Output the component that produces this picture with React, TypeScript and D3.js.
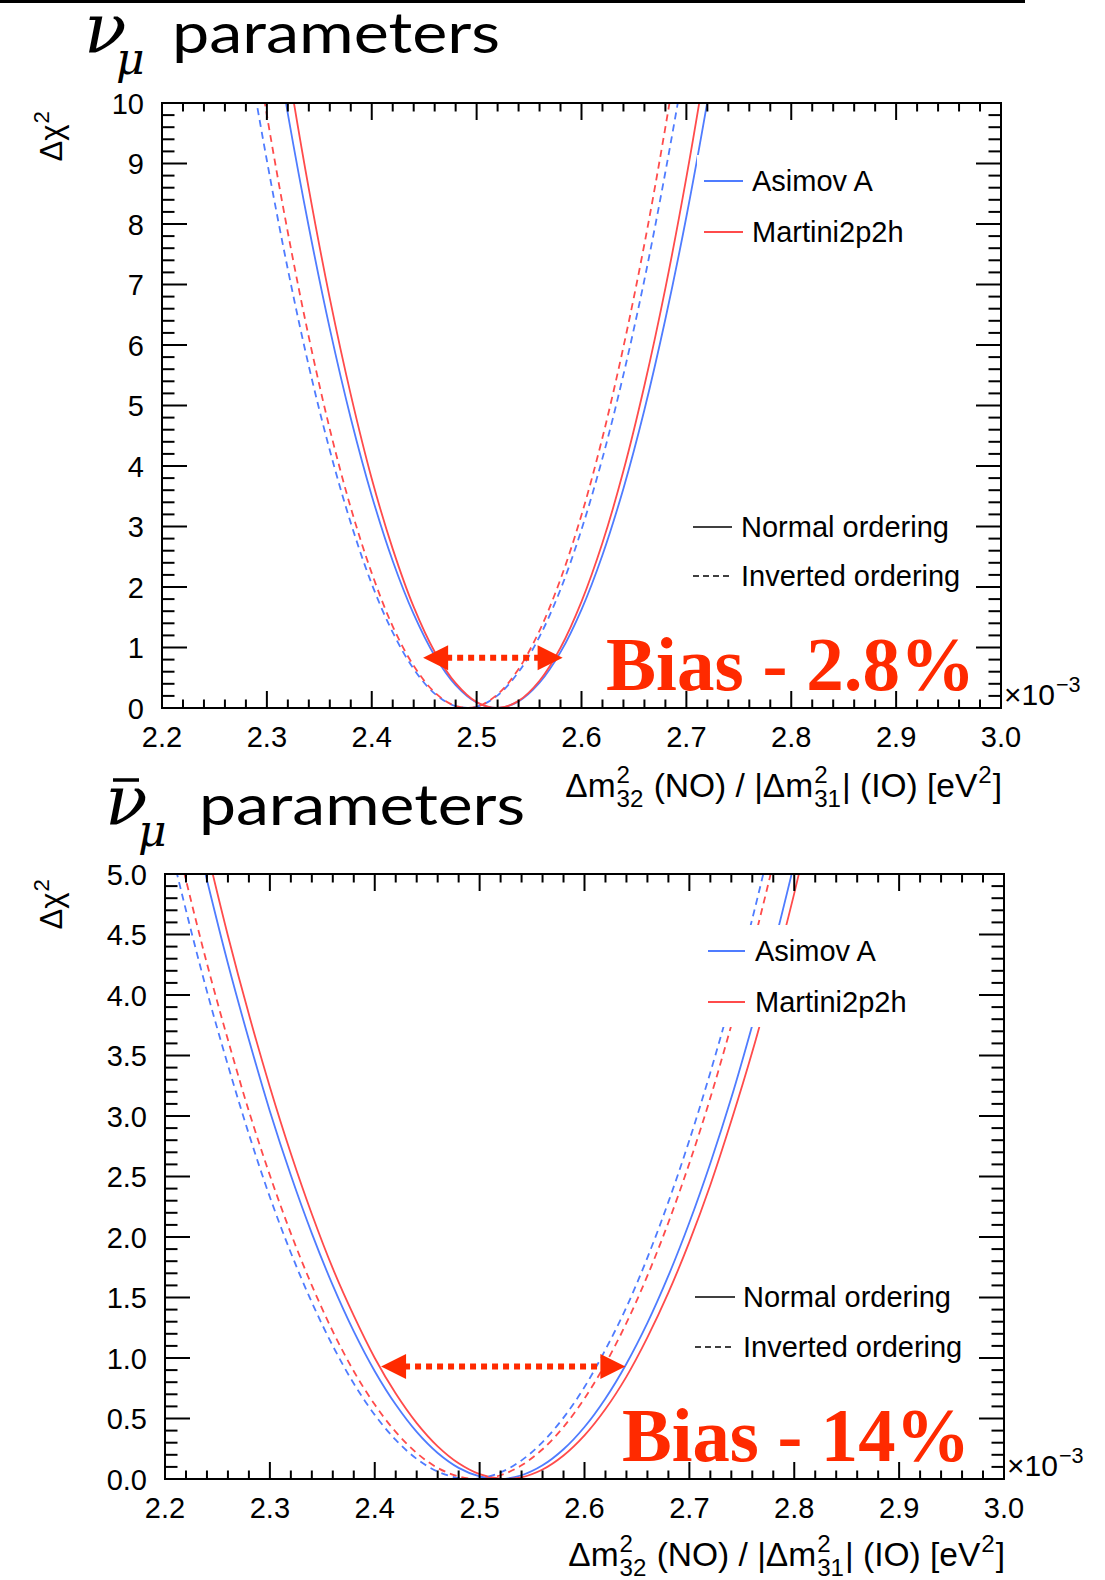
import React, { useEffect, useRef } from "react";
import * as d3 from "d3";

// Δm²32 scan points (×10⁻³ eV²)
const xGridNu = [2.24, 2.26, 2.28, 2.30, 2.32, 2.34, 2.36, 2.38, 2.40, 2.42, 2.44, 2.46, 2.48, 2.50, 2.52, 2.54, 2.56, 2.58, 2.60, 2.62, 2.64, 2.66, 2.68, 2.70, 2.72, 2.74];
const asimovNONu = [19.3, 16.6, 14.17, 11.89, 9.82, 7.95, 6.27, 4.79, 3.51, 2.43, 1.55, 0.863, 0.377, 0.090, 0.0, 0.109, 0.417, 0.923, 1.627, 2.53, 3.63, 4.93, 6.43, 8.12, 10.02, 12.11];
const martiniNONu = [20.8, 17.97, 15.30, 12.85, 10.61, 8.58, 6.77, 5.18, 3.79, 2.63, 1.67, 0.93, 0.41, 0.097, 0.0, 0.118, 0.450, 0.996, 1.758, 2.73, 3.92, 5.33, 6.94, 8.77, 10.82, 13.08];
const asimovIONu = [15.6, 13.23, 11.04, 9.05, 7.25, 5.65, 4.26, 3.06, 2.05, 1.25, 0.645, 0.238, 0.030, 0.020, 0.209, 0.595, 1.18, 1.96, 2.95, 4.13, 5.51, 7.08, 8.86, 10.83, 13.0, 15.4];
const martiniIONu = [16.93, 14.34, 11.97, 9.80, 7.86, 6.13, 4.61, 3.31, 2.23, 1.35, 0.699, 0.258, 0.033, 0.022, 0.226, 0.645, 1.28, 2.13, 3.19, 4.47, 5.97, 7.67, 9.60, 11.74, 14.09, 16.66];

const xGridNubar = [2.18, 2.20, 2.22, 2.24, 2.26, 2.28, 2.30, 2.32, 2.34, 2.36, 2.38, 2.40, 2.42, 2.44, 2.46, 2.48, 2.50, 2.52, 2.54, 2.56, 2.58, 2.60, 2.62, 2.64, 2.66, 2.68, 2.70, 2.72, 2.74, 2.76, 2.78, 2.80, 2.82, 2.84];
const asimovNONubar = [7.31, 6.47, 5.68, 4.95, 4.26, 3.63, 3.04, 2.51, 2.03, 1.60, 1.22, 0.891, 0.615, 0.389, 0.215, 0.092, 0.021, 0.000, 0.031, 0.113, 0.246, 0.430, 0.666, 0.953, 1.29, 1.68, 2.12, 2.61, 3.15, 3.75, 4.39, 5.09, 5.84, 6.64];
const martiniNONubar = [7.62, 6.76, 5.95, 5.20, 4.49, 3.84, 3.24, 2.69, 2.19, 1.74, 1.35, 1.00, 0.706, 0.462, 0.270, 0.130, 0.040, 0.002, 0.014, 0.078, 0.194, 0.360, 0.578, 0.846, 1.17, 1.54, 1.96, 2.43, 2.96, 3.53, 4.16, 4.84, 5.57, 6.35];
const asimovIONubar = [6.19, 5.42, 4.70, 4.03, 3.42, 2.85, 2.33, 1.87, 1.46, 1.10, 0.789, 0.530, 0.323, 0.166, 0.062, 0.008, 0.005, 0.054, 0.154, 0.305, 0.507, 0.760, 1.07, 1.42, 1.83, 2.29, 2.80, 3.36, 3.97, 4.63, 5.35, 6.11, 6.93, 7.80];
const martiniIONubar = [6.47, 5.68, 4.95, 4.26, 3.63, 3.04, 2.51, 2.03, 1.60, 1.22, 0.891, 0.615, 0.389, 0.215, 0.092, 0.021, 0.000, 0.031, 0.113, 0.246, 0.430, 0.666, 0.953, 1.29, 1.68, 2.12, 2.61, 3.15, 3.75, 4.39, 5.09, 5.84, 6.64, 7.49];

// Bias arrows: [x start, x end, Δχ² level] and their labels
const biasArrowNu = [2.449, 2.582, 0.83];
const biasArrowNubar = [2.406, 2.639, 0.93];
const biasLabels = ["Bias - 2.8%", "Bias - 14%"];

const xDomain = [2.2, 3.0];
const yMaxes = [10, 5];
const seriesNames = ["Asimov A", "Martini2p2h"];
const orderingNames = ["Normal ordering", "Inverted ordering"];

const BLUE = "#4f7cff";
const RED = "#ff4b4b";
const BIAS = "#ff2a00";
const SANS = "'Liberation Sans', Arial, Helvetica, sans-serif";

type Part = { t?: string; sup?: string; sub?: string };

function richText(
  parent: any,
  x: number,
  y: number,
  parts: Part[],
  size: number,
  anchor: "start" | "end",
  rotate = false
) {
  const g = parent.append("g");
  let cx = 0;
  const ss = size * 0.72;
  parts.forEach((p) => {
    if (p.t !== undefined) {
      const el = g.append("text").attr("x", cx).attr("y", 0).attr("font-family", SANS).attr("font-size", size)
        .attr("fill", "#000").style("white-space", "pre").text(p.t);
      cx += (el.node() as SVGTextElement).getComputedTextLength();
    } else {
      let w = 0;
      if (p.sup) {
        const el = g.append("text").attr("x", cx + 1).attr("y", -size * 0.42).attr("font-family", SANS).attr("font-size", ss).text(p.sup);
        w = Math.max(w, (el.node() as SVGTextElement).getComputedTextLength());
      }
      if (p.sub) {
        const el = g.append("text").attr("x", cx + 1).attr("y", size * 0.3).attr("font-family", SANS).attr("font-size", ss).text(p.sub);
        w = Math.max(w, (el.node() as SVGTextElement).getComputedTextLength());
      }
      cx += w + 2;
    }
  });
  const shift = anchor === "end" ? -cx : 0;
  if (rotate) g.attr("transform", `translate(${x},${y}) rotate(-90) translate(${shift},0)`);
  else g.attr("transform", `translate(${x + shift},${y})`);
  return g;
}

type PanelCfg = {
  frame: { l: number; r: number; t: number; b: number };
  yMax: number;
  yMajor: number;
  yFmt: (v: number) => string;
  xs: number[];
  curves: { vals: number[]; color: string; dashed: boolean }[];
  arrow: number[];
  bias: string;
  biasPos: { x: number; y: number; len: number };
  legend1: { box: number[]; l1: number; l2: number; tx: number; ys: number[] };
  legend2: { l1: number; l2: number; tx: number; ys: number[] };
  yTitle: { x: number; y: number };
  title: { nuX: number; base: number; muX: number; parX: number; bar: boolean; parLen: number };
  xTitleY: number;
  expPos: { x: number; y: number };
};

function drawPanel(svg: any, cfg: PanelCfg, idx: number) {
  const { frame } = cfg;
  const x = d3.scaleLinear().domain(xDomain).range([frame.l, frame.r]);
  const y = d3.scaleLinear().domain([0, cfg.yMax]).range([frame.b, frame.t]);

  const clipId = `clip${idx}`;
  svg.append("clipPath").attr("id", clipId).append("rect")
    .attr("x", frame.l).attr("y", frame.t).attr("width", frame.r - frame.l).attr("height", frame.b - frame.t);

  // χ² profile curves
  const line = d3.line<[number, number]>()
    .x((d) => x(d[0]))
    .y((d) => y(d[1]))
    .curve(d3.curveCatmullRom.alpha(0.5));
  const cg = svg.append("g").attr("clip-path", `url(#${clipId})`);
  cfg.curves.forEach((c) => {
    const pts: [number, number][] = cfg.xs.map((xv, i) => [xv, c.vals[i]]);
    cg.append("path").attr("d", line(pts)).attr("fill", "none")
      .attr("stroke", c.color).attr("stroke-width", 1.8)
      .attr("stroke-dasharray", c.dashed ? "7,5" : null);
  });

  // legend (white box hides curves behind it)
  const L1 = cfg.legend1;
  svg.append("rect").attr("x", L1.box[0]).attr("y", L1.box[1]).attr("width", L1.box[2] - L1.box[0]).attr("height", L1.box[3] - L1.box[1]).attr("fill", "#fff");
  seriesNames.forEach((name, i) => {
    const yy = L1.ys[i];
    svg.append("line").attr("x1", L1.l1).attr("x2", L1.l2).attr("y1", yy).attr("y2", yy).attr("stroke", i === 0 ? BLUE : RED).attr("stroke-width", 1.8);
    svg.append("text").attr("x", L1.tx).attr("y", yy + 10).attr("font-family", SANS).attr("font-size", 29).text(name);
  });
  const L2 = cfg.legend2;
  orderingNames.forEach((name, i) => {
    const yy = L2.ys[i];
    svg.append("line").attr("x1", L2.l1).attr("x2", L2.l2).attr("y1", yy).attr("y2", yy).attr("stroke", "#000").attr("stroke-width", 1.6).attr("stroke-dasharray", i === 1 ? "6,4" : null);
    svg.append("text").attr("x", L2.tx).attr("y", yy + 10).attr("font-family", SANS).attr("font-size", 29).text(name);
  });

  // axes frame and ticks
  const ag = svg.append("g").attr("stroke", "#000").attr("stroke-width", 2);
  ag.append("rect").attr("x", frame.l).attr("y", frame.t).attr("width", frame.r - frame.l).attr("height", frame.b - frame.t).attr("fill", "none");
  const xMinor = d3.range(0, 41).map((i) => 2.2 + i * 0.02);
  xMinor.forEach((v, i) => {
    const major = i % 5 === 0;
    const len = major ? 17 : 8.5;
    const px = x(v);
    ag.append("line").attr("x1", px).attr("x2", px).attr("y1", frame.b).attr("y2", frame.b - len);
    ag.append("line").attr("x1", px).attr("x2", px).attr("y1", frame.t).attr("y2", frame.t + len);
  });
  const nY = Math.round(cfg.yMax / (cfg.yMajor / 5));
  d3.range(0, nY + 1).forEach((i) => {
    const v = (i * cfg.yMajor) / 5;
    const major = i % 5 === 0;
    const len = major ? 25 : 12.5;
    const py = y(v);
    ag.append("line").attr("x1", frame.l).attr("x2", frame.l + len).attr("y1", py).attr("y2", py);
    ag.append("line").attr("x1", frame.r).attr("x2", frame.r - len).attr("y1", py).attr("y2", py);
  });

  // tick labels
  d3.range(0, 9).forEach((i) => {
    const v = 2.2 + i * 0.1;
    svg.append("text").attr("x", x(v)).attr("y", frame.b + 39).attr("text-anchor", "middle").attr("font-family", SANS).attr("font-size", 29).text(d3.format(".1f")(v));
  });
  d3.range(0, Math.round(cfg.yMax / cfg.yMajor) + 1).forEach((i) => {
    const v = i * cfg.yMajor;
    svg.append("text").attr("x", frame.l - 18).attr("y", y(v) + 10.5).attr("text-anchor", "end").attr("font-family", SANS).attr("font-size", 29).text(cfg.yFmt(v));
  });

  // exponent, axis titles
  richText(svg, cfg.expPos.x, cfg.expPos.y, [{ t: "×10" }, { sup: "−3" }], 30, "start");
  richText(svg, frame.r + 1, cfg.xTitleY, [
    { t: "Δm" }, { sup: "2", sub: "32" }, { t: " (NO) / |Δm" }, { sup: "2", sub: "31" }, { t: "| (IO) [eV" }, { sup: "2" }, { t: "]" },
  ], 33.5, "end");
  richText(svg, cfg.yTitle.x, cfg.yTitle.y, [{ t: "Δχ" }, { sup: "2" }], 31, "end", true);

  // bias arrow
  const [ax1, ax2, ay] = cfg.arrow;
  const px1 = x(ax1), px2 = x(ax2), py = y(ay);
  const head = 25, hh = 12.5;
  svg.append("line").attr("x1", px1 + head - 2).attr("x2", px2 - head + 2).attr("y1", py).attr("y2", py)
    .attr("stroke", BIAS).attr("stroke-width", 6).attr("stroke-dasharray", "6,5");
  svg.append("path").attr("d", `M${px1},${py} L${px1 + head},${py - hh} L${px1 + head},${py + hh} Z`).attr("fill", BIAS);
  svg.append("path").attr("d", `M${px2},${py} L${px2 - head},${py - hh} L${px2 - head},${py + hh} Z`).attr("fill", BIAS);
  svg.append("text").attr("x", cfg.biasPos.x).attr("y", cfg.biasPos.y)
    .attr("font-family", "'Liberation Serif', 'Times New Roman', serif").attr("font-weight", "bold")
    .attr("font-size", 76).attr("fill", BIAS)
    .attr("textLength", cfg.biasPos.len).attr("lengthAdjust", "spacingAndGlyphs")
    .text(cfg.bias);

  // panel title
  const T = cfg.title;
  svg.append("text").attr("x", T.nuX).attr("y", T.base).attr("font-family", "'DejaVu Serif', serif").attr("font-style", "italic").attr("font-size", 70).text("ν");
  if (T.bar) {
    svg.append("line").attr("x1", T.nuX + 8).attr("x2", T.nuX + 34).attr("y1", T.base - 44).attr("y2", T.base - 44).attr("stroke", "#000").attr("stroke-width", 3.5);
  }
  svg.append("text").attr("x", T.muX).attr("y", T.base + 22).attr("font-family", "'DejaVu Serif', serif").attr("font-style", "italic").attr("font-size", 44).text("μ");
  svg.append("text").attr("x", T.parX).attr("y", T.base + 1).attr("font-family", "Lato, 'Open Sans', sans-serif").attr("font-size", 56)
    .attr("textLength", T.parLen).attr("lengthAdjust", "spacingAndGlyphs").text("parameters");
}

export default function App() {
  const ref = useRef<SVGSVGElement>(null);
  useEffect(() => {
    const svg = d3.select(ref.current);
    svg.selectAll("*").remove();
    svg.append("rect").attr("x", 0).attr("y", 0).attr("width", 1105).attr("height", 1580).attr("fill", "#fff");
    svg.append("rect").attr("x", 0).attr("y", 0).attr("width", 1025).attr("height", 3).attr("fill", "#000");

    const top: PanelCfg = {
      frame: { l: 162, r: 1001, t: 103, b: 708 },
      yMax: yMaxes[0],
      yMajor: 1,
      yFmt: d3.format("d"),
      xs: xGridNu,
      curves: [
        { vals: asimovNONu, color: BLUE, dashed: false },
        { vals: martiniNONu, color: RED, dashed: false },
        { vals: asimovIONu, color: BLUE, dashed: true },
        { vals: martiniIONu, color: RED, dashed: true },
      ],
      arrow: biasArrowNu,
      bias: biasLabels[0],
      biasPos: { x: 606, y: 690, len: 369 },
      legend1: { box: [697, 155, 990, 258], l1: 704, l2: 743, tx: 752, ys: [181, 232] },
      legend2: { l1: 693, l2: 732, tx: 741, ys: [527, 576] },
      yTitle: { x: 62, y: 110 },
      title: { nuX: 84, base: 52, muX: 116, parX: 172, bar: false, parLen: 328 },
      xTitleY: 797,
      expPos: { x: 1004, y: 705 },
    };
    const bottom: PanelCfg = {
      frame: { l: 165, r: 1004, t: 874, b: 1479 },
      yMax: yMaxes[1],
      yMajor: 0.5,
      yFmt: d3.format(".1f"),
      xs: xGridNubar,
      curves: [
        { vals: asimovNONubar, color: BLUE, dashed: false },
        { vals: martiniNONubar, color: RED, dashed: false },
        { vals: asimovIONubar, color: BLUE, dashed: true },
        { vals: martiniIONubar, color: RED, dashed: true },
      ],
      arrow: biasArrowNubar,
      bias: biasLabels[1],
      biasPos: { x: 622, y: 1461, len: 348 },
      legend1: { box: [700, 925, 990, 1027], l1: 708, l2: 745, tx: 755, ys: [951, 1002] },
      legend2: { l1: 695, l2: 735, tx: 743, ys: [1297, 1347] },
      yTitle: { x: 62, y: 878 },
      title: { nuX: 105, base: 824, muX: 138, parX: 199, bar: true, parLen: 326 },
      xTitleY: 1566,
      expPos: { x: 1007, y: 1476 },
    };
    drawPanel(svg, top, 0);
    drawPanel(svg, bottom, 1);
  }, []);
  return (
    <svg
      ref={ref}
      width={1105}
      height={1580}
      style={{ position: "absolute", left: 0, top: 0, display: "block" }}
    />
  );
}
